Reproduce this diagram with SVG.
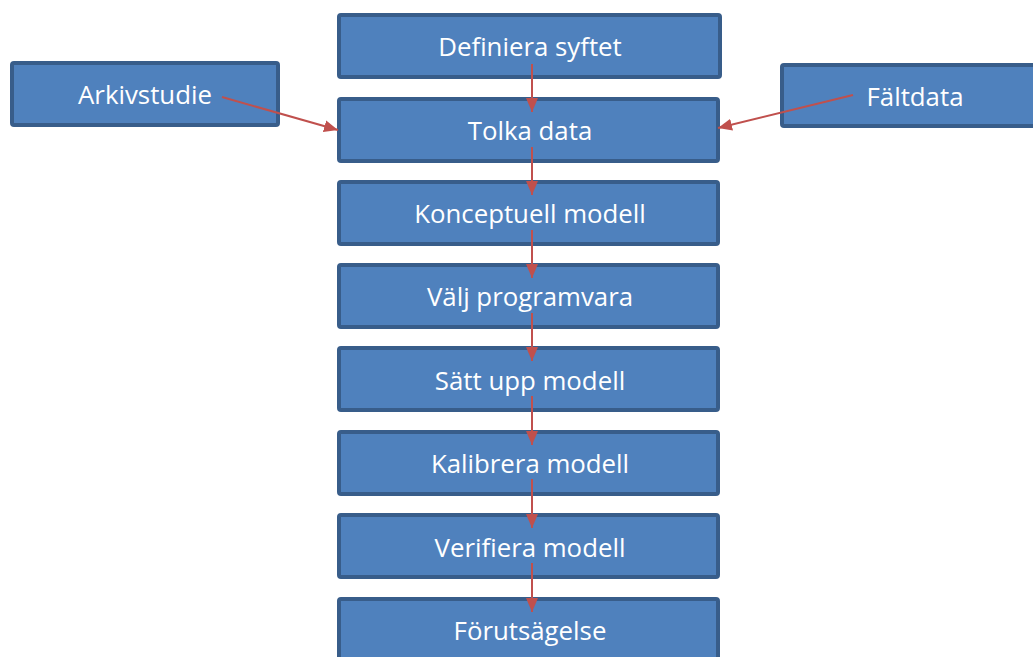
<svg xmlns="http://www.w3.org/2000/svg" width="1033" height="657" viewBox="0 0 1033 657">
  <style>
    .box { fill: #4f81bd; stroke: #385d8a; stroke-width: 4; }
    .lbl { fill: #ffffff; font-family: "Open Sans", "Liberation Sans", sans-serif; font-size: 25.8px; text-anchor: middle; }
    .conn { stroke: #c0504d; stroke-width: 2; fill: none; marker-end: url(#head); }
  </style>
  <defs>
    <marker id="head" viewBox="0 0 14 12" refX="14" refY="6" markerWidth="14" markerHeight="12" markerUnits="userSpaceOnUse" orient="auto">
      <path d="M0,0 L14,6 L0,12 Z" fill="#c0504d"/>
    </marker>
  </defs>
  <rect width="1033" height="657" fill="#ffffff"/>

  <!-- main process column -->
  <g id="definiera"><rect class="box" x="339" y="15" width="381" height="62" rx="2"/><text class="lbl" x="530" y="56">Definiera syftet</text></g>
  <g id="tolka"><rect class="box" x="339" y="99" width="379" height="62" rx="2"/><text class="lbl" x="530" y="139.5">Tolka data</text></g>
  <g id="konceptuell"><rect class="box" x="339" y="182" width="379" height="62" rx="2"/><text class="lbl" x="530" y="223">Konceptuell modell</text></g>
  <g id="valj"><rect class="box" x="339" y="265" width="379" height="62" rx="2"/><text class="lbl" x="530" y="306">Välj programvara</text></g>
  <g id="satt"><rect class="box" x="339" y="348" width="379" height="62" rx="2"/><text class="lbl" x="530" y="389.5">Sätt upp modell</text></g>
  <g id="kalibrera"><rect class="box" x="339" y="432" width="379" height="62" rx="2"/><text class="lbl" x="530" y="473">Kalibrera modell</text></g>
  <g id="verifiera"><rect class="box" x="339" y="515" width="379" height="62" rx="2"/><text class="lbl" x="530" y="556.5">Verifiera modell</text></g>
  <g id="forutsagelse"><rect class="box" x="339" y="599" width="379" height="62" rx="2"/><text class="lbl" x="530" y="640">Förutsägelse</text></g>

  <!-- side inputs -->
  <g id="arkivstudie"><rect class="box" x="12" y="63" width="266" height="62" rx="2"/><text class="lbl" x="145" y="104">Arkivstudie</text></g>
  <g id="faltdata"><rect class="box" x="782" y="65" width="256" height="61" rx="2"/><text class="lbl" x="915" y="106">Fältdata</text></g>

  <g id="connectors">
    <line class="conn" x1="532" y1="64" x2="532" y2="112"/>
    <line class="conn" x1="532" y1="147" x2="532" y2="195"/>
    <line class="conn" x1="532" y1="230" x2="532" y2="278"/>
    <line class="conn" x1="532" y1="313" x2="532" y2="361"/>
    <line class="conn" x1="532" y1="396" x2="532" y2="445"/>
    <line class="conn" x1="532" y1="479" x2="532" y2="528"/>
    <line class="conn" x1="532" y1="563" x2="532" y2="612"/>
    <line class="conn" x1="222" y1="97" x2="338" y2="130"/>
    <line class="conn" x1="853" y1="95" x2="718" y2="128"/>
  </g>
</svg>
